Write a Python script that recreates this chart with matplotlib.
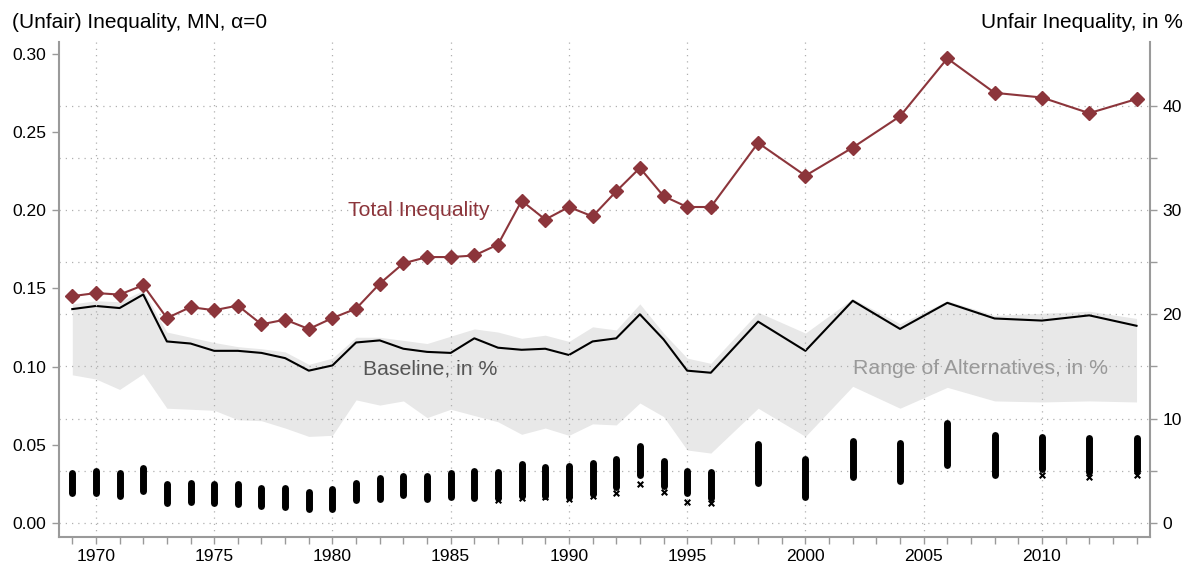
import matplotlib
matplotlib.use("Agg")
import matplotlib.pyplot as plt
from matplotlib.ticker import MultipleLocator

plt.rcParams['font.family'] = ['Liberation Sans', 'DejaVu Sans']

# data
years = [1969, 1970, 1971, 1972, 1973, 1974, 1975, 1976, 1977, 1978,
         1979, 1980, 1981, 1982, 1983, 1984, 1985, 1986, 1987, 1988,
         1989, 1990, 1991, 1992, 1993, 1994, 1995, 1996,
         1998, 2000, 2002, 2004, 2006, 2008, 2010, 2012, 2014]

total_ineq = [0.145, 0.147, 0.146, 0.152, 0.131, 0.138, 0.136, 0.139, 0.127, 0.130,
              0.124, 0.131, 0.137, 0.153, 0.166, 0.170, 0.170, 0.171, 0.178, 0.206,
              0.194, 0.202, 0.196, 0.212, 0.227, 0.209, 0.202, 0.202,
              0.243, 0.222, 0.240, 0.260, 0.297, 0.275, 0.272, 0.262, 0.271]

baseline_pct = [20.5, 20.8, 20.6, 21.9, 17.4, 17.2, 16.5, 16.5, 16.3, 15.8,
                14.6, 15.1, 17.3, 17.5, 16.7, 16.4, 16.3, 17.7, 16.8, 16.6,
                16.7, 16.1, 17.4, 17.7, 20.0, 17.6, 14.6, 14.4,
                19.3, 16.5, 21.3, 18.6, 21.1, 19.6, 19.4, 19.9, 18.9]

alt_high_pct = [21.0, 21.3, 21.2, 22.3, 18.3, 17.8, 17.3, 16.9, 16.7, 16.4,
                15.2, 15.8, 17.8, 17.8, 17.5, 17.2, 17.9, 18.6, 18.3, 17.7,
                18.0, 17.4, 18.8, 18.5, 21.0, 18.2, 15.8, 15.3,
                20.2, 18.2, 21.5, 19.1, 21.3, 19.9, 20.1, 20.3, 19.6]

alt_low_pct = [14.2, 13.8, 12.8, 14.3, 11.0, 10.9, 10.8, 9.9, 9.8, 9.1,
               8.3, 8.4, 11.8, 11.3, 11.7, 10.1, 10.9, 10.3, 9.7, 8.5,
               9.1, 8.4, 9.5, 9.4, 11.5, 10.2, 7.0, 6.7,
               11.0, 8.3, 13.1, 11.0, 13.0, 11.7, 11.6, 11.7, 11.6]

# unfair inequality estimates (levels): top and bottom of each cloud
unfair_hi = [0.0318, 0.0334, 0.0318, 0.0349, 0.0249, 0.0258, 0.0247, 0.0247, 0.0221, 0.0221,
             0.0200, 0.0217, 0.0253, 0.0285, 0.0302, 0.0302, 0.0318, 0.0332, 0.0328, 0.0377,
             0.0360, 0.0366, 0.0382, 0.0409, 0.0492, 0.0396, 0.0332, 0.0324,
             0.0503, 0.0409, 0.0524, 0.0509, 0.0638, 0.0563, 0.0552, 0.0542, 0.0542]

unfair_lo = [0.0190, 0.0190, 0.0173, 0.0206, 0.0125, 0.0136, 0.0130, 0.0121, 0.0109, 0.0100,
             0.0087, 0.0091, 0.0147, 0.0153, 0.0179, 0.0151, 0.0168, 0.0158, 0.0160, 0.0175,
             0.0175, 0.0165, 0.0185, 0.0233, 0.0307, 0.0237, 0.0190, 0.0158,
             0.0254, 0.0169, 0.0296, 0.0269, 0.0371, 0.0307, 0.0343, 0.0328, 0.0335]

outlier_years = [1987, 1988, 1989, 1990, 1991, 1992, 1993, 1994, 1995, 1996, 2010, 2012, 2014]
outlier_vals = [0.0147, 0.0158, 0.0164, 0.0153, 0.0173, 0.0190, 0.0249, 0.0197, 0.0137, 0.0125,
                0.0307, 0.0296, 0.0307]

red = '#8C353B'
spine_gray = '#9a9a9a'

fig = plt.figure(figsize=(11.88, 5.65), dpi=100)
ax = fig.add_axes([0.0497, 0.0496, 0.9183, 0.8761])
ax2 = ax.twinx()
ax.set_zorder(ax2.get_zorder() + 1)
ax.patch.set_visible(False)

# right axis: baseline and range of alternatives
ax2.fill_between(years, alt_low_pct, alt_high_pct, color='#e8e8e8', lw=0, zorder=1)
ax2.plot(years, baseline_pct, color='black', lw=1.5, zorder=2)
ax2.set_ylim(-1.34, 46.1)
ax2.set_yticks([0, 5, 10, 15, 20, 25, 30, 35, 40])
ax2.set_yticklabels(['0', '', '10', '', '20', '', '30', '', '40'])
ax2.set_axisbelow('line')
ax2.grid(axis='y', linestyle=(0, (1, 4)), color='#b0b0b0', lw=0.9)

# left axis: total inequality and unfair estimates
ax.plot(years, total_ineq, color=red, lw=1.5, marker='D', ms=7, zorder=4)
clouds = ax.vlines(years, unfair_lo, unfair_hi, color='black', lw=5, zorder=3)
clouds.set_capstyle('round')
ax.scatter(outlier_years, outlier_vals, marker='x', s=16, color='black', lw=1.5, zorder=3)

ax.set_xlim(1968.44, 2014.57)
ax.set_ylim(-0.00895, 0.3075)
ax.set_yticks([0.0, 0.05, 0.10, 0.15, 0.20, 0.25, 0.30])
ax.set_yticklabels(['0.00', '0.05', '0.10', '0.15', '0.20', '0.25', '0.30'])
ax.xaxis.set_major_locator(MultipleLocator(5))
ax.xaxis.set_minor_locator(MultipleLocator(1))
ax.set_axisbelow(True)
ax.grid(axis='x', which='major', linestyle=(0, (1, 4)), color='#b0b0b0', lw=0.9)

for a in (ax, ax2):
    a.spines['top'].set_visible(False)
    for s in ('left', 'right', 'bottom'):
        a.spines[s].set_color(spine_gray)
        a.spines[s].set_linewidth(1.5)
    a.tick_params(which='both', color=spine_gray, length=5, width=1, labelsize=12.6, pad=4)
ax.spines['right'].set_visible(False)
ax2.spines['left'].set_visible(False)
ax2.spines['bottom'].set_visible(False)

# in-plot labels
ax.text(1980.66, 0.1995, 'Total Inequality', color=red, fontsize=15.3, va='center', ha='left')
ax2.text(1981.3, 14.8, 'Baseline, in %', color='#555555', fontsize=15.3, va='center', ha='left')
ax2.text(2002.0, 14.8, 'Range of Alternatives, in %', color='#999999', fontsize=15.3,
         va='center', ha='left')

fig.text(0.01, 0.961, '(Unfair) Inequality, MN, \u03b1=0', fontsize=15, va='center', ha='left')
fig.text(0.996, 0.961, 'Unfair Inequality, in %', fontsize=15, va='center', ha='right')

fig.savefig('out.png', dpi=100)
